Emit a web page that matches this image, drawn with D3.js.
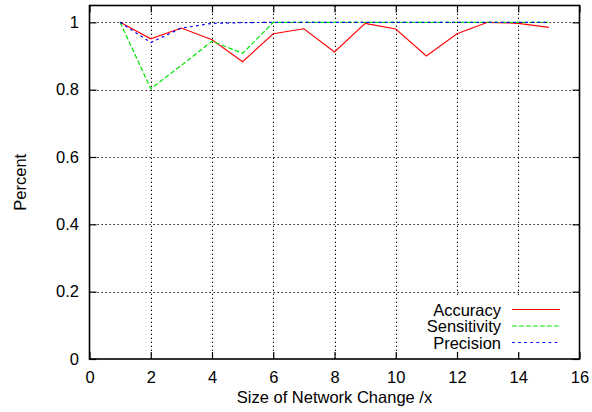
<!DOCTYPE html>
<html>
<head>
<meta charset="utf-8">
<script src="https://cdn.jsdelivr.net/npm/d3@7"></script>
<style>
  html, body { margin: 0; padding: 0; background: #fff; }
  svg text { font-family: "Liberation Sans", Arial, Helvetica, sans-serif; font-size: 16.5px; fill: #000; }
</style>
</head>
<body>
<svg id="chart" width="592" height="412"></svg>
<script>
// Network change size (x) and measured rates for each series
const sizes = [1, 2, 3, 4, 5, 6, 7, 8, 9, 10, 11, 12, 13, 14, 15];
const accuracy    = [1.0, 0.951, 0.983, 0.948, 0.883, 0.966, 0.981, 0.912, 0.997, 0.980, 0.900, 0.966, 1.0, 0.997, 0.985];
const sensitivity = [1.0, 0.803, 0.872, 0.944, 0.908, 1.0, 1.0, 1.0, 1.0, 1.0, 1.0, 1.0, 1.0, 1.0, 1.0];
const precision   = [1.0, 0.940, 0.983, 0.997, 0.999, 1.0, 1.0, 1.0, 1.0, 1.0, 1.0, 1.0, 1.0, 1.0, 1.0];

const xTicks = [0, 2, 4, 6, 8, 10, 12, 14, 16];
const yTicks = [0, 0.2, 0.4, 0.6, 0.8, 1];
const seriesNames = ["Accuracy", "Sensitivity", "Precision"];

const series = [
  { name: seriesNames[0], values: accuracy,    color: "#ff0000", dash: null,      width: 1.1 },
  { name: seriesNames[1], values: sensitivity, color: "#00e600", dash: "4.7,2.3", width: 1.2 },
  { name: seriesNames[2], values: precision,   color: "#0000ff", dash: "2.7,3.4", width: 1.2 }
];

const plotLeft = 89.5, plotRight = 579.5, plotTop = 5.5, plotBottom = 359;
const svg = d3.select("#chart");

const x = d3.scaleLinear().domain([0, 16]).range([plotLeft, plotRight]);
const y = d3.scaleLinear().domain([0, 1.05]).range([plotBottom, plotTop]);

// dotted grid
const grid = svg.append("g").attr("stroke", "#000").attr("stroke-width", 1)
  .attr("stroke-dasharray", "1.3,2.7");
grid.selectAll("line.gx").data(xTicks.filter(d => d > 0 && d < 16)).join("line")
  .attr("x1", d => Math.round(x(d)) + 0.5).attr("x2", d => Math.round(x(d)) + 0.5)
  .attr("y1", plotBottom).attr("y2", plotTop);
grid.selectAll("line.gy").data(yTicks.filter(d => d > 0)).join("line")
  .attr("y1", d => Math.round(y(d)) + 0.5).attr("y2", d => Math.round(y(d)) + 0.5)
  .attr("x1", plotLeft).attr("x2", plotRight);

// data lines
const line = d3.line().x((d, i) => x(sizes[i])).y(d => y(d));
series.forEach(s => {
  svg.append("path").datum(s.values)
    .attr("d", line)
    .attr("fill", "none")
    .attr("stroke", s.color)
    .attr("stroke-width", s.width)
    .attr("stroke-dasharray", s.dash);
});

// key box background hides grid underneath
const keyRight = 501, keyLineX1 = 512, keyLineX2 = 560;
const keyRows = [309.5, 326, 342.5];
svg.append("rect").attr("x", 412).attr("y", 297).attr("width", 160).attr("height", 55).attr("fill", "#fff");

// axes with inward ticks
const fmt = d => d3.format("~g")(d);
const axB = svg.append("g").attr("transform", `translate(0,${plotBottom})`)
  .call(d3.axisBottom(x).tickValues(xTicks).tickSize(-7).tickSizeOuter(0).tickPadding(12).tickFormat(fmt));
const axL = svg.append("g").attr("transform", `translate(${plotLeft},0)`)
  .call(d3.axisLeft(y).tickValues(yTicks).tickSize(-7).tickSizeOuter(0).tickPadding(10.5).tickFormat(fmt));
const axT = svg.append("g").attr("transform", `translate(0,${plotTop})`)
  .call(d3.axisTop(x).tickValues(xTicks).tickSize(-7).tickSizeOuter(0).tickFormat(""));
const axR = svg.append("g").attr("transform", `translate(${plotRight},0)`)
  .call(d3.axisRight(y).tickValues(yTicks).tickSize(-7).tickSizeOuter(0).tickFormat(""));
[axB, axL, axT, axR].forEach(a => {
  a.select(".domain").remove();
  a.selectAll(".tick line").attr("stroke", "#000").attr("stroke-width", 1.2);
  a.attr("font-family", null).attr("font-size", null);
});

// frame
svg.append("rect").attr("x", plotLeft).attr("y", plotTop).attr("width", plotRight - plotLeft).attr("height", plotBottom - plotTop)
  .attr("fill", "none").attr("stroke", "#000").attr("stroke-width", 1.6);

// legend
series.forEach((s, i) => {
  svg.append("text").attr("x", keyRight).attr("y", keyRows[i] + 6).attr("text-anchor", "end").text(s.name);
  svg.append("line").attr("x1", keyLineX1).attr("x2", keyLineX2)
    .attr("y1", keyRows[i]).attr("y2", keyRows[i])
    .attr("stroke", s.color).attr("stroke-width", s.width).attr("stroke-dasharray", s.dash);
});

// axis titles
svg.append("text").attr("x", (plotLeft + plotRight) / 2).attr("y", 403).attr("text-anchor", "middle")
  .text("Size of Network Change /x");
svg.append("text").attr("transform", `translate(26,${(plotTop + plotBottom) / 2}) rotate(-90)`)
  .attr("text-anchor", "middle").text("Percent");
</script>
</body>
</html>
